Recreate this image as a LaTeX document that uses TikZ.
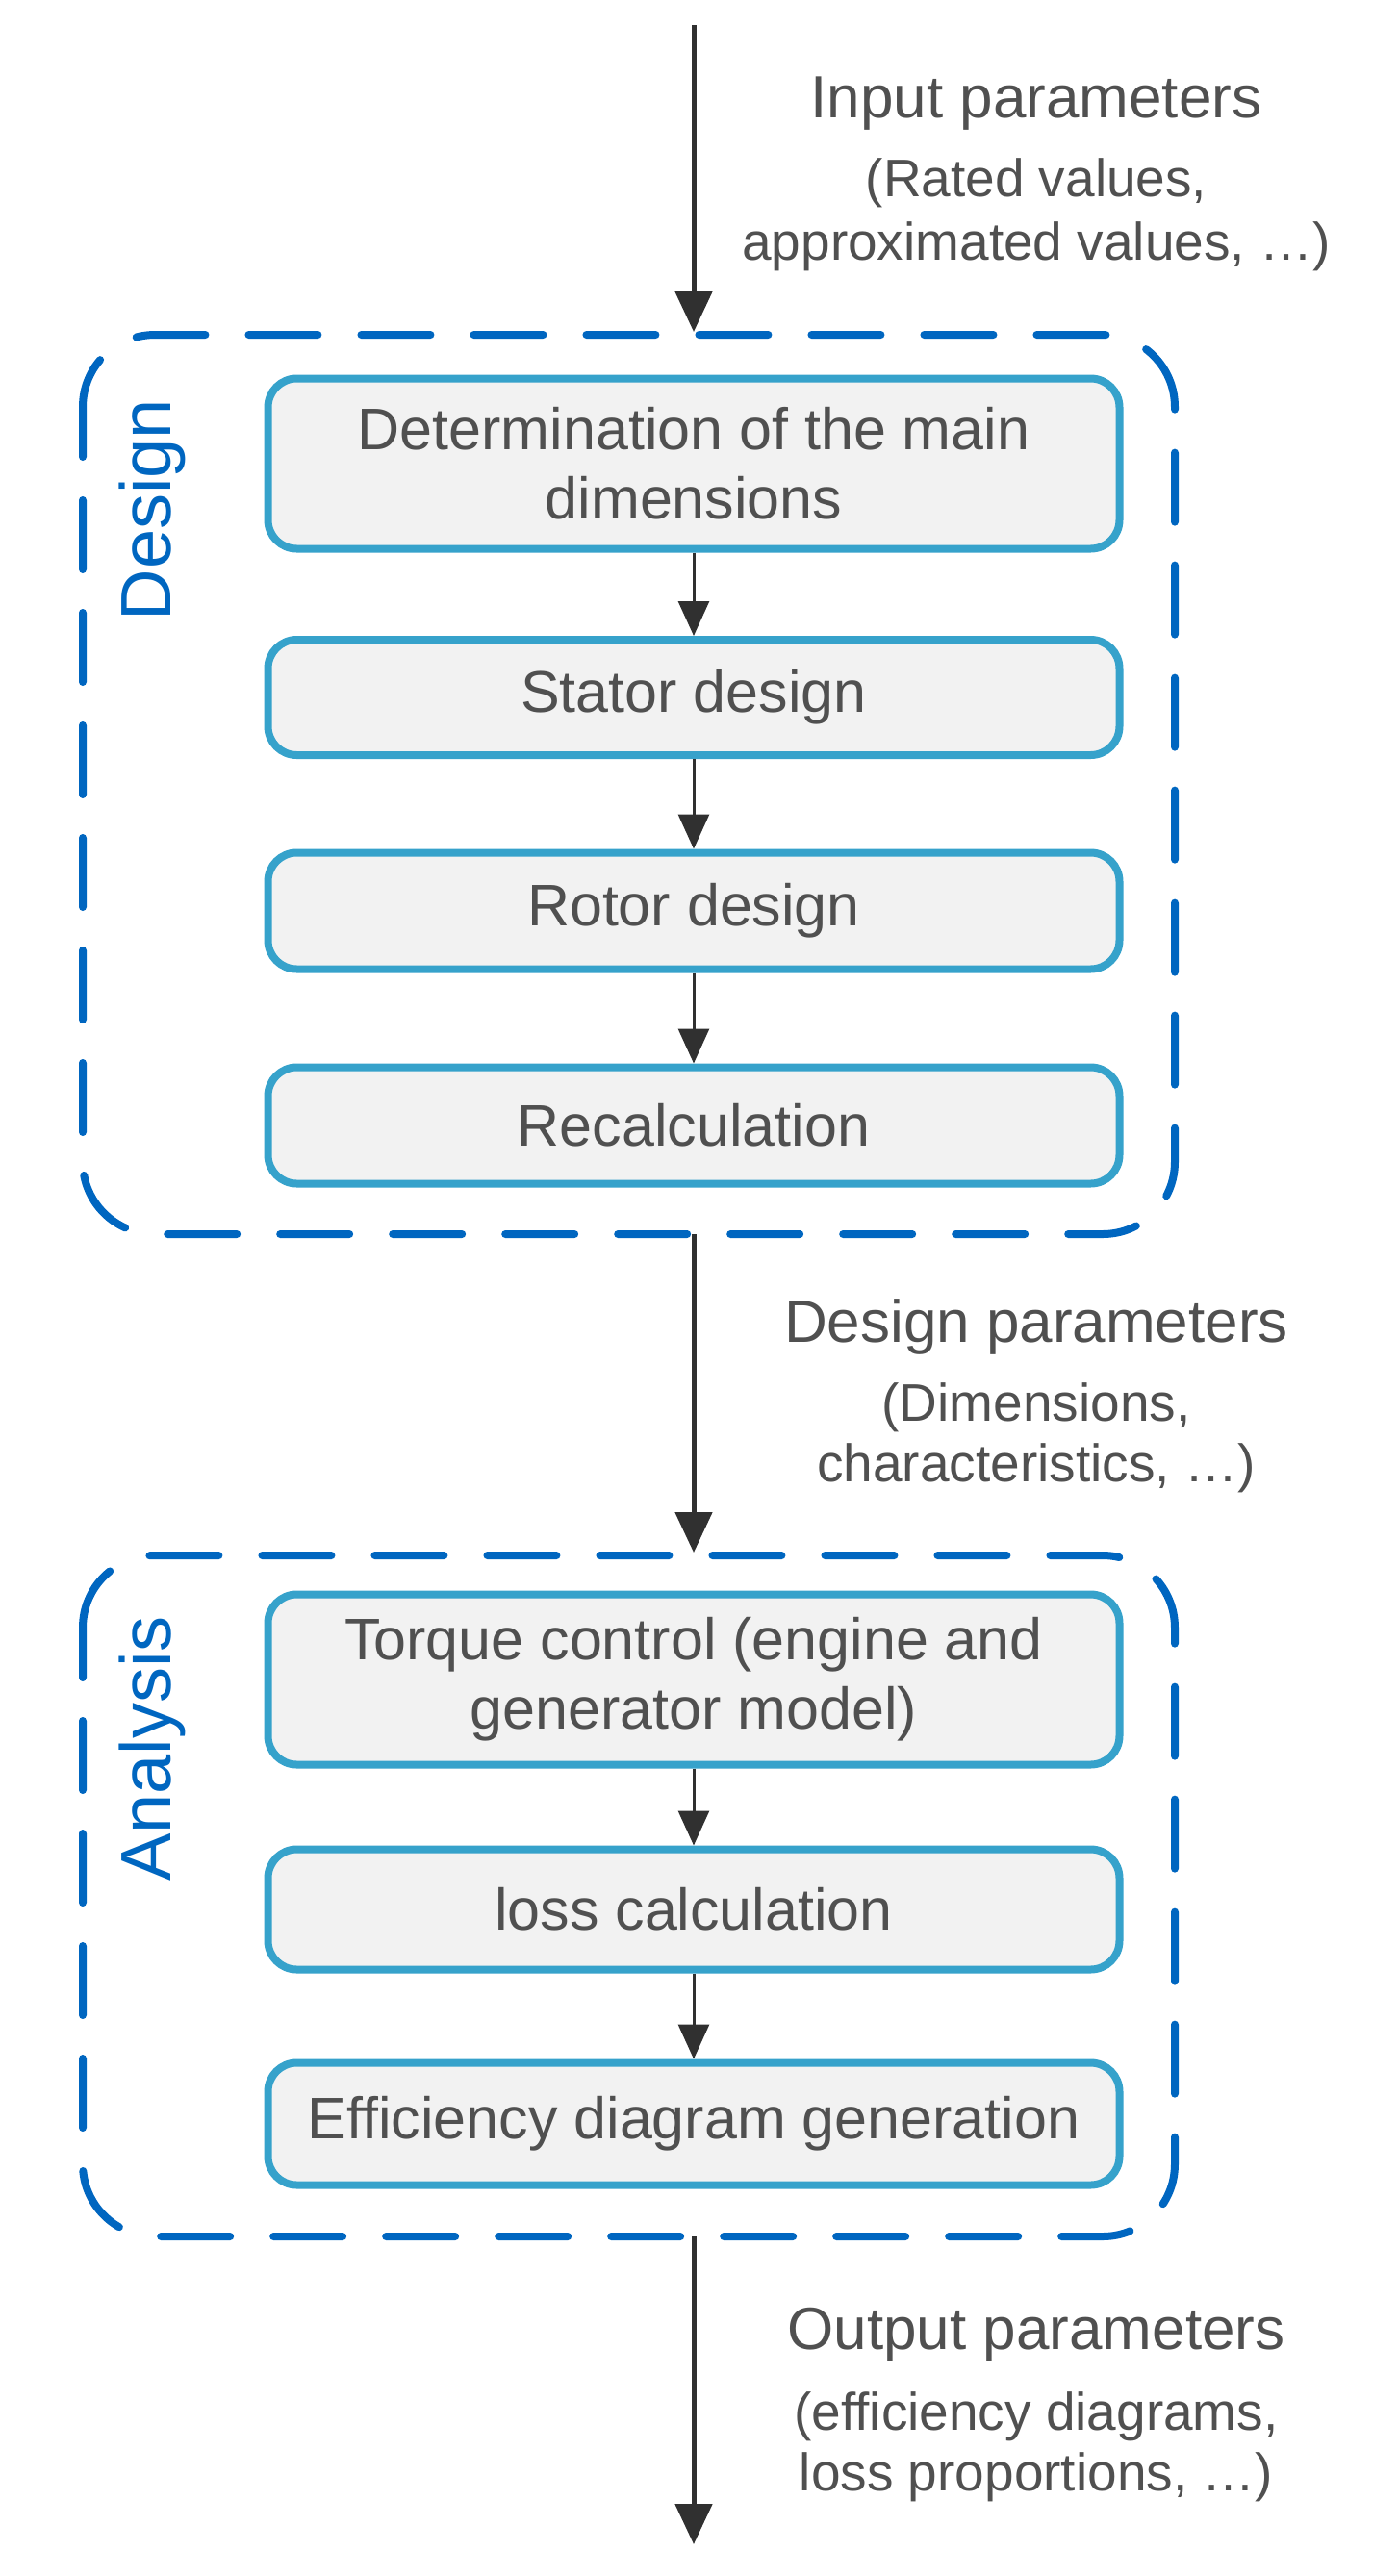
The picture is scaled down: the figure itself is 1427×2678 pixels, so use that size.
\documentclass[tikz,border=0pt]{standalone}
\usepackage{fontspec}
\setmainfont{Liberation Sans}
\usetikzlibrary{arrows.meta}
\definecolor{txt}{HTML}{505050}
\definecolor{bord}{HTML}{36A2CB}
\definecolor{dash}{HTML}{0066C0}
\definecolor{arr}{HTML}{303030}
\begin{document}
\begin{tikzpicture}[x=1pt,y=-1pt,
  box/.style={draw=bord,line width=8pt,fill=black!5,rounded corners=30pt,text=txt,
    font=\fontsize{61}{72}\selectfont,align=center,minimum width=885pt,inner sep=0pt},
  grp/.style={draw=dash,line width=8pt,dash pattern=on 72pt off 45pt,dash phase=20pt,rounded corners=75pt,line cap=round},
  big/.style={draw=arr,line width=5pt,-{Triangle[length=42pt,width=38pt]}},
  small/.style={draw=arr,line width=3pt,-{Triangle[length=36pt,width=32pt]}},
  lab/.style={text=txt,align=center},
  side/.style={text=dash,rotate=90,font=\fontsize{74}{80}\selectfont}]
\useasboundingbox (0,0) rectangle (1427,2678);
\draw[grp] (86,348) rectangle (1221,1283);
\draw[grp] (86,1617) rectangle (1221,2325);
\node[box,minimum height=177pt] (b1) at (721,482) {Determination of the main\\dimensions};
\node[box,minimum height=120pt] (b2) at (721,725) {Stator design};
\node[box,minimum height=121pt] (b3) at (721,947) {Rotor design};
\node[box,minimum height=121pt] (b4) at (721,1170) {Recalculation};
\node[box,minimum height=177pt] (a1) at (721,1746) {Torque control (engine and\\generator model)};
\node[box,minimum height=125pt] (a2) at (721,1985) {loss calculation};
\node[box,minimum height=127pt] (a3) at (721,2208) {Efficiency diagram generation};
\node[side] (d) at (158,530) {Design};
\node[side] (an) at (158,1818) {Analysis};
\coordinate (t0) at (721,26);
\coordinate (t1) at (721,345);
\coordinate (m0) at (721,1283);
\coordinate (m1) at (721,1614);
\coordinate (o0) at (721,2325);
\coordinate (o1) at (721,2645);
\draw[big] (t0) -- (t1);
\draw[big] (m0) -- (m1);
\draw[big] (o0) -- (o1);
\draw[small] (b1) -- (b2);
\draw[small] (b2) -- (b3);
\draw[small] (b3) -- (b4);
\draw[small] (a1) -- (a2);
\draw[small] (a2) -- (a3);
\node[lab,font=\fontsize{62}{60}\selectfont] (il) at (1077,108) {Input parameters};
\node[lab,font=\fontsize{55}{66}\selectfont] (il2) at (1077,223) {(Rated values,\\approximated values, \ldots)};
\node[lab,font=\fontsize{62}{60}\selectfont] (dl) at (1077,1379) {Design parameters};
\node[lab,font=\fontsize{55}{63}\selectfont] (dl2) at (1077,1495) {(Dimensions,\\characteristics, \ldots)};
\node[lab,font=\fontsize{62}{60}\selectfont] (ol) at (1077,2427) {Output parameters};
\node[lab,font=\fontsize{55}{63}\selectfont] (ol2) at (1077,2544) {(efficiency diagrams,\\loss proportions, \ldots)};
\end{tikzpicture}
\end{document}
